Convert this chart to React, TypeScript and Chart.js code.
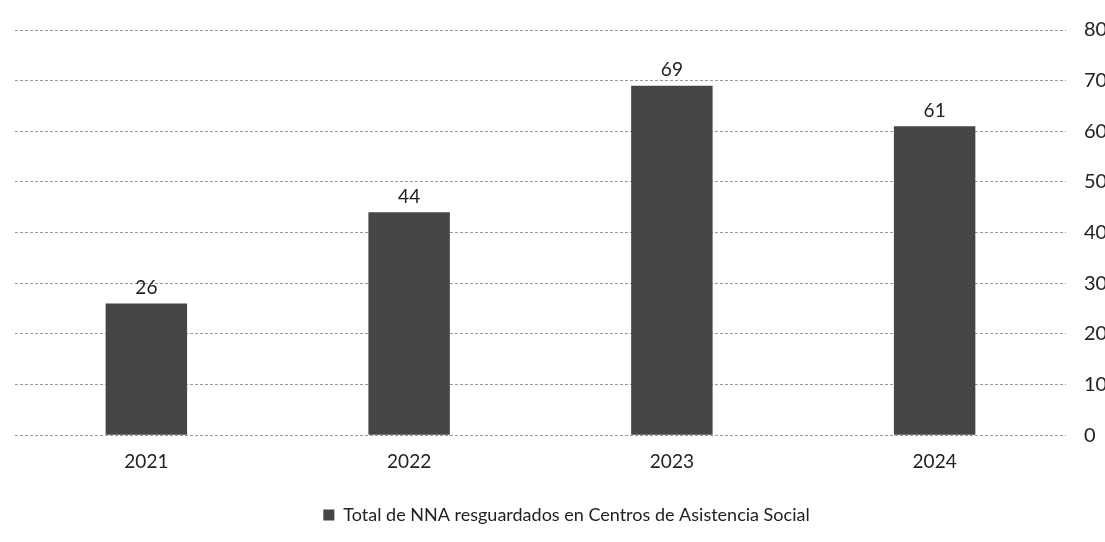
import React, { useEffect, useRef } from "react";
import { Chart, registerables } from "chart.js";

Chart.register(...registerables);

const categories = ["2021", "2022", "2023", "2024"];
const values = [26, 44, 69, 61];
const seriesLabel = "Total de NNA resguardados en Centros de Asistencia Social";
const yTicks = [0, 10, 20, 30, 40, 50, 60, 70, 80];

const FONT = "Lato, 'Noto Sans', sans-serif";

const valueLabels = {
  id: "valueLabels",
  afterDatasetsDraw(chart: any) {
    const ctx = chart.ctx;
    const meta = chart.getDatasetMeta(0);
    ctx.save();
    ctx.font = `19px ${FONT}`;
    ctx.fillStyle = "#222";
    ctx.textAlign = "center";
    ctx.textBaseline = "bottom";
    meta.data.forEach((bar: any, i: number) => {
      ctx.fillText(String(chart.data.datasets[0].data[i]), bar.x, bar.y - 6);
    });
    ctx.restore();
  },
};

export default function App() {
  const ref = useRef<HTMLCanvasElement>(null);
  useEffect(() => {
    document.body.style.margin = "0";
    const chart = new Chart(ref.current!, {
      type: "bar",
      data: {
        labels: categories,
        datasets: [
          {
            label: seriesLabel,
            data: values,
            backgroundColor: "#454545",
            borderWidth: 0,
            barPercentage: 0.31,
            categoryPercentage: 1,
          },
        ],
      },
      options: {
        animation: false,
        responsive: false,
        layout: { padding: { left: 15, top: 27, bottom: 8, right: 0 } },
        plugins: {
          legend: {
            position: "bottom",
            labels: {
              boxWidth: 11,
              boxHeight: 11,
              color: "#222",
              padding: 26,
              font: { family: FONT, size: 18 },
            },
          },
          tooltip: { enabled: false },
        },
        scales: {
          x: {
            grid: { display: false },
            border: { display: false },
            ticks: { color: "#222", padding: 7, font: { family: FONT, size: 19 } },
          },
          y: {
            position: "right",
            min: 0,
            max: 80,
            afterBuildTicks: (scale: any) => {
              scale.ticks = yTicks.map((v) => ({ value: v }));
            },
            afterFit: (scale: any) => {
              scale.width = 52;
            },
            grid: { color: "#9a9a9a", drawTicks: false, lineWidth: 1 },
            border: { display: false, dash: [3, 2] },
            ticks: { color: "#222", padding: 18, font: { family: FONT, size: 20 } },
          },
        },
      },
      plugins: [valueLabels],
    });
    return () => chart.destroy();
  }, []);
  return (
    <div style={{ width: 1105, height: 542, overflow: "hidden", background: "#fff" }}>
      <canvas ref={ref} width={1118} height={542} style={{ display: "block" }} />
    </div>
  );
}
